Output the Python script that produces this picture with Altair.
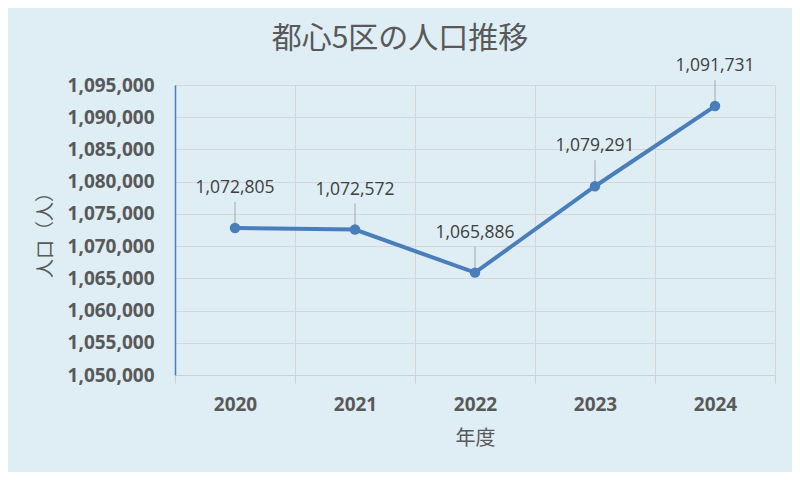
import altair as alt
import pandas as pd

years = ["2020", "2021", "2022", "2023", "2024"]
population = [1072805, 1072572, 1065886, 1079291, 1091731]
labels = ["1,072,805", "1,072,572", "1,065,886", "1,079,291", "1,091,731"]

df = pd.DataFrame({"year": years, "pop": population, "label": labels})

FONT = "Open Sans"
TXT = "#595959"
BG = "#DEEEF4"

x = alt.X("year:N", title="年度", sort=years,
          scale=alt.Scale(paddingInner=0, paddingOuter=0),
          axis=alt.Axis(labelAngle=0, labelFont=FONT, labelFontSize=19, labelFontWeight="bold",
                        labelColor=TXT, labelPadding=12, titleFont="Noto Sans CJK JP",
                        titleFontSize=20, titleFontWeight="normal", titleColor=TXT, titlePadding=14,
                        domainColor="#D0D0D0", tickColor="#D0D0D0", tickSize=8,
                        grid=True, gridColor="#D6D6D6", tickBand="extent", bandPosition=0))
y = alt.Y("pop:Q", title="人口（人）",
          scale=alt.Scale(domain=[1050000, 1095000], nice=False, zero=False),
          axis=alt.Axis(values=list(range(1050000, 1095001, 5000)), format=",.0f",
                        labelFont=FONT, labelFontSize=19, labelFontWeight="bold", labelColor=TXT,
                        labelPadding=21, ticks=False, domainColor="#4A7EBB", domainWidth=1.5,
                        gridColor="#D6D6D6", titleFont="Noto Sans CJK JP", titleFontSize=19,
                        titleFontWeight="normal", titleColor=TXT, titlePadding=12))

base = alt.Chart(df)

line = base.mark_line(color="#4A7EBB", strokeWidth=4).encode(x=x, y=y)
pts = base.mark_point(filled=True, color="#4A7EBB", size=110, opacity=1).encode(x=x, y=y)
leaders = base.mark_rule(color="#A6A6A6", strokeWidth=1, yOffset=-4, y2Offset=-26).encode(
    x=x, y=y, y2="pop:Q")
texts = base.mark_text(font=FONT, fontSize=17.5, color="#404040", dy=-40).encode(
    x=x, y=y, text="label:N")

chart = alt.layer(line, leaders, pts, texts).properties(
    width=600, height=290,
    background=BG,
    autosize=alt.AutoSizeParams(type="none"),
    padding={"left": 167, "top": 77, "right": 17, "bottom": 97},
    title=alt.TitleParams("都心5区の人口推移", font="Noto Sans CJK JP", fontSize=30,
                          fontWeight="normal", color=TXT, anchor="middle", dx=-75, offset=3),
).configure_view(stroke=None)

chart.save("out.html", embed_options={"renderer": "svg", "actions": False})
